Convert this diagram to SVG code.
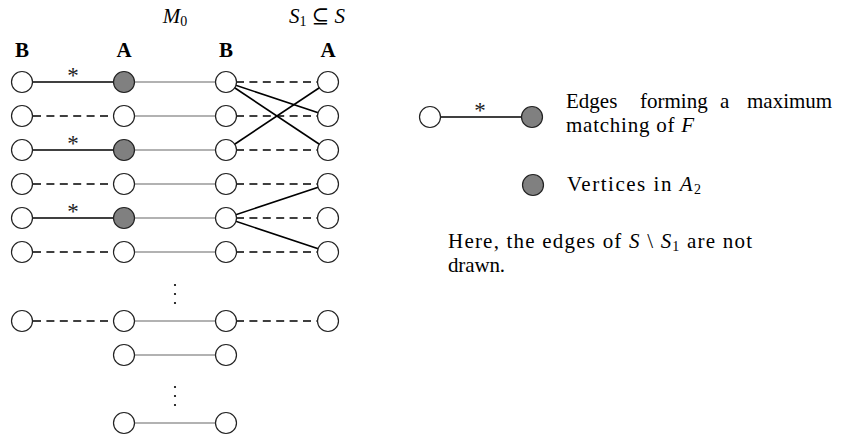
<svg xmlns="http://www.w3.org/2000/svg" width="841" height="437" viewBox="0 0 841 437">
<style>
  .v { fill: #ffffff; stroke: #222; stroke-width: 1.2; }
  .f { fill: #808080; stroke: #222; stroke-width: 1.2; }
  .m { stroke: #000; stroke-width: 1.6; fill: none; }
  .g { stroke: #999; stroke-width: 1.6; fill: none; }
  .d { stroke: #000; stroke-width: 1.6; stroke-dasharray: 8 5.4; fill: none; }
  .t { font-family: "Liberation Serif", "DejaVu Serif", serif; font-size: 21px; fill: #000; }
  .b { font-family: "Liberation Serif", "DejaVu Serif", serif; font-size: 21px; font-weight: bold; fill: #000; text-anchor: middle; }
  .i { font-style: italic; }
  .s { font-size: 14px; }
  .ast { font-family: "Liberation Serif", "DejaVu Serif", serif; font-size: 23px; fill: #222; text-anchor: middle; }
</style>
<g id="labels">
  <text class="t" x="175" y="23" text-anchor="middle"><tspan class="i">M</tspan><tspan class="s" dy="3">0</tspan></text>
  <text class="t" x="317" y="23" text-anchor="middle"><tspan class="i">S</tspan><tspan class="s" dy="3">1</tspan><tspan dy="-3"> ⊆ </tspan><tspan class="i">S</tspan></text>
  <text class="b" x="22" y="57">B</text>
  <text class="b" x="124" y="57">A</text>
  <text class="b" x="226" y="57">B</text>
  <text class="b" x="328" y="57">A</text>
</g>
<g id="connectors">
  <line class="m" x1="22" y1="82" x2="124" y2="82"/>
  <line class="d" x1="33" y1="116" x2="114" y2="116"/>
  <line class="m" x1="22" y1="150" x2="124" y2="150"/>
  <line class="d" x1="33" y1="184" x2="114" y2="184"/>
  <line class="m" x1="22" y1="218" x2="124" y2="218"/>
  <line class="d" x1="33" y1="252" x2="114" y2="252"/>
  <line class="d" x1="33" y1="321" x2="114" y2="321"/>
  <line class="g" x1="124" y1="82" x2="226" y2="82"/>
  <line class="g" x1="124" y1="116" x2="226" y2="116"/>
  <line class="g" x1="124" y1="150" x2="226" y2="150"/>
  <line class="g" x1="124" y1="184" x2="226" y2="184"/>
  <line class="g" x1="124" y1="218" x2="226" y2="218"/>
  <line class="g" x1="124" y1="252" x2="226" y2="252"/>
  <line class="g" x1="124" y1="321" x2="226" y2="321"/>
  <line class="g" x1="124" y1="355" x2="226" y2="355"/>
  <line class="g" x1="124" y1="423" x2="226" y2="423"/>
  <line class="d" x1="236" y1="82" x2="318" y2="82"/>
  <line class="d" x1="236" y1="116" x2="318" y2="116"/>
  <line class="d" x1="236" y1="150" x2="318" y2="150"/>
  <line class="d" x1="236" y1="184" x2="318" y2="184"/>
  <line class="d" x1="236" y1="218" x2="318" y2="218"/>
  <line class="d" x1="236" y1="252" x2="318" y2="252"/>
  <line class="d" x1="236" y1="321" x2="318" y2="321"/>
  <line class="m" x1="226" y1="82" x2="328" y2="116"/>
  <line class="m" x1="226" y1="82" x2="328" y2="150"/>
  <line class="m" x1="226" y1="150" x2="328" y2="82"/>
  <line class="m" x1="226" y1="218" x2="328" y2="184"/>
  <line class="m" x1="226" y1="218" x2="328" y2="252"/>
  <line class="m" x1="430" y1="117" x2="532" y2="117"/>
</g>
<g id="asterisks">
  <text class="ast" x="73" y="83">*</text>
  <text class="ast" x="73" y="151">*</text>
  <text class="ast" x="73" y="219">*</text>
  <text class="ast" x="480" y="118">*</text>
</g>
<g id="col-B1">
  <circle class="v" cx="22" cy="82" r="10.5"/>
  <circle class="v" cx="22" cy="116" r="10.5"/>
  <circle class="v" cx="22" cy="150" r="10.5"/>
  <circle class="v" cx="22" cy="184" r="10.5"/>
  <circle class="v" cx="22" cy="218" r="10.5"/>
  <circle class="v" cx="22" cy="252" r="10.5"/>
  <circle class="v" cx="22" cy="321" r="10.5"/>
</g>
<g id="col-A1">
  <circle class="f" cx="124" cy="82" r="10.5"/>
  <circle class="v" cx="124" cy="116" r="10.5"/>
  <circle class="f" cx="124" cy="150" r="10.5"/>
  <circle class="v" cx="124" cy="184" r="10.5"/>
  <circle class="f" cx="124" cy="218" r="10.5"/>
  <circle class="v" cx="124" cy="252" r="10.5"/>
  <circle class="v" cx="124" cy="321" r="10.5"/>
  <circle class="v" cx="124" cy="355" r="10.5"/>
  <circle class="v" cx="124" cy="423" r="10.5"/>
</g>
<g id="col-B2">
  <circle class="v" cx="226" cy="82" r="10.5"/>
  <circle class="v" cx="226" cy="116" r="10.5"/>
  <circle class="v" cx="226" cy="150" r="10.5"/>
  <circle class="v" cx="226" cy="184" r="10.5"/>
  <circle class="v" cx="226" cy="218" r="10.5"/>
  <circle class="v" cx="226" cy="252" r="10.5"/>
  <circle class="v" cx="226" cy="321" r="10.5"/>
  <circle class="v" cx="226" cy="355" r="10.5"/>
  <circle class="v" cx="226" cy="423" r="10.5"/>
</g>
<g id="col-A2">
  <circle class="v" cx="328" cy="82" r="10.5"/>
  <circle class="v" cx="328" cy="116" r="10.5"/>
  <circle class="v" cx="328" cy="150" r="10.5"/>
  <circle class="v" cx="328" cy="184" r="10.5"/>
  <circle class="v" cx="328" cy="218" r="10.5"/>
  <circle class="v" cx="328" cy="252" r="10.5"/>
  <circle class="v" cx="328" cy="321" r="10.5"/>
</g>
<g id="vdots" fill="#000">
  <circle cx="175" cy="285" r="1.1"/>
  <circle cx="175" cy="294" r="1.1"/>
  <circle cx="175" cy="303" r="1.1"/>
  <circle cx="175" cy="387" r="1.1"/>
  <circle cx="175" cy="396" r="1.1"/>
  <circle cx="175" cy="405" r="1.1"/>
</g>
<g id="legend">
  <circle class="v" cx="430" cy="117" r="10.5"/>
  <circle class="f" cx="532" cy="117" r="10.5"/>
  <text class="t" y="108"><tspan x="566">Edges</tspan><tspan x="640">forming</tspan><tspan x="720">a</tspan><tspan x="747">maximum</tspan></text>
  <text class="t" x="566" y="132" textLength="128" lengthAdjust="spacing">matching of <tspan class="i">F</tspan></text>
  <circle class="f" cx="533" cy="185" r="10.5"/>
  <text class="t" x="567" y="191" textLength="134" lengthAdjust="spacing">Vertices in <tspan class="i">A</tspan><tspan class="s" dy="3">2</tspan></text>
  <text class="t" x="448" y="248" textLength="304" lengthAdjust="spacing">Here, the edges of <tspan class="i">S</tspan> \ <tspan class="i">S</tspan><tspan class="s" dy="3">1</tspan><tspan dy="-3"> are not</tspan></text>
  <text class="t" x="448" y="272" textLength="57" lengthAdjust="spacing">drawn.</text>
</g>
</svg>
